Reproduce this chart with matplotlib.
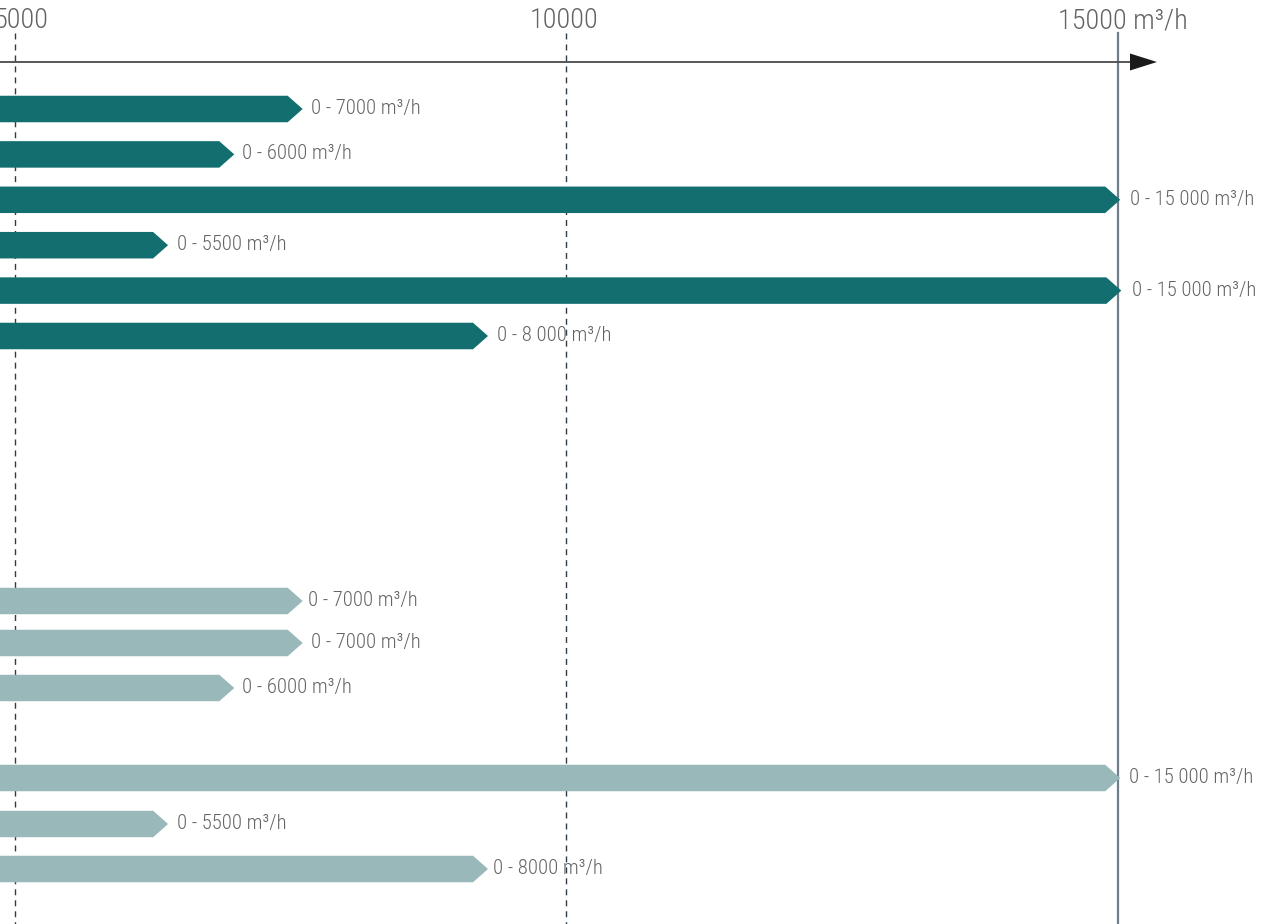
import matplotlib
matplotlib.use("Agg")
import matplotlib.pyplot as plt
from matplotlib.patches import Polygon
from matplotlib import font_manager as fm

# ---------------- data ----------------
top_labels = ["0 - 7000 m³/h", "0 - 6000 m³/h", "0 - 15 000 m³/h",
              "0 - 5500 m³/h", "0 - 15 000 m³/h", "0 - 8 000 m³/h"]
top_ends = [7610, 6990, 15020, 6390, 15030, 9290]

bottom_labels = ["0 - 7000 m³/h", "0 - 7000 m³/h", "0 - 6000 m³/h",
                 "0 - 15 000 m³/h", "0 - 5500 m³/h", "0 - 8000 m³/h"]
bottom_ends = [7610, 7610, 6990, 15020, 6390, 9290]

tick_values = [5000, 10000, 15000]
tick_labels = ["5000", "10000", "15000 m³/h"]

# ---------------- font choice ----------------
entries = fm.fontManager.ttflist
names = {e.name for e in entries}
font_kw = None
for cand in ["Liberation Sans Narrow", "Roboto Condensed", "Open Sans Condensed"]:
    if cand in names:
        font_kw = dict(family=[cand, "DejaVu Sans"])
        break
if font_kw is None:
    if any(e.name == "DejaVu Sans" and "condensed" in str(e.stretch) for e in entries):
        font_kw = dict(family=["DejaVu Sans"], stretch="condensed")
    elif "Roboto" in names:
        font_kw = dict(family=["Roboto", "DejaVu Sans"])
    else:
        font_kw = dict(family=["DejaVu Sans"])
fam0 = font_kw["family"][0]
if any(e.name == fam0 and e.weight in (300, "light") for e in entries):
    font_kw["weight"] = "light"

# ---------------- layout / style ----------------
W, H = 1262, 924
PX_PER_UNIT = 0.11033
X0_PX = 14.7  # pixel of 5000
xmin = 5000 - X0_PX / PX_PER_UNIT
xmax = xmin + W / PX_PER_UNIT

top_rows = [109 + 45.4 * i for i in range(6)]
bottom_rows = [601, 643, 688, 778, 824, 869]
top_gaps_px = [8, 8, 10, 9, 11, 9]
bottom_gaps_px = [5, 8, 8, 9, 9, 5]
tick_label_offsets_px = [6.5, -2, 4.5]

dark = "#126e6f"
light = "#98b8ba"
text_col = "#636363"

bar_h = 26.5
tip_px = 15

fig = plt.figure(figsize=(W / 100, H / 100), dpi=100)
ax = fig.add_axes([0, 0, 1, 1])
ax.set_xlim(xmin, xmax)
ax.set_ylim(H, 0)
ax.axis("off")
renderer = fig.canvas.get_renderer()


def fit_size(sample, target_px, base=15.0):
    t = fig.text(0, 0, sample, fontsize=base, **font_kw)
    w = t.get_window_extent(renderer).width
    t.remove()
    return base * target_px / w


label_fs = fit_size("0 - 7000 m³/h", 110)
tick_fs = fit_size("10000", 69)

tip = tip_px / PX_PER_UNIT


def draw_bar(y, end, color, label, gap_px):
    hh = bar_h / 2
    pts = [(0, y - hh), (end - tip, y - hh), (end, y), (end - tip, y + hh), (0, y + hh)]
    ax.add_patch(Polygon(pts, closed=True, facecolor=color, edgecolor="none", zorder=2))
    ax.text(end + gap_px / PX_PER_UNIT, y - 0.5, label, ha="left", va="center",
            fontsize=label_fs, color=text_col, zorder=3, **font_kw)


for y, e, l, g in zip(top_rows, top_ends, top_labels, top_gaps_px):
    draw_bar(y, e, dark, l, g)
for y, e, l, g in zip(bottom_rows, bottom_ends, bottom_labels, bottom_gaps_px):
    draw_bar(y, e, light, l, g)

# grid lines (behind bars)
line_top = 33
for v in tick_values[:-1]:
    ax.plot([v, v], [line_top, H], color="#2e3b48", lw=1.0,
            dashes=(4.3, 3.6), zorder=1)
ax.plot([tick_values[-1]] * 2, [line_top, H], color="#6f7e8b", lw=1.6, zorder=1)

# tick labels
for v, t, off in zip(tick_values, tick_labels, tick_label_offsets_px):
    ax.text(v + off / PX_PER_UNIT, 21, t, ha="center", va="center", fontsize=tick_fs,
            color=text_col, **font_kw)

# axis line with arrow
axis_y = 62
line_end = 5000 + (1132 - X0_PX) / PX_PER_UNIT
arrow_base = 5000 + (1130 - X0_PX) / PX_PER_UNIT
arrow_tip = 5000 + (1157 - X0_PX) / PX_PER_UNIT
ax.plot([xmin, line_end], [axis_y, axis_y], color="#4a4a4a", lw=1.3, zorder=5)
ax.add_patch(Polygon([(arrow_base, axis_y - 8.5), (arrow_tip, axis_y),
                      (arrow_base, axis_y + 8.5)], closed=True,
                     facecolor="#1a1a1a", edgecolor="none", zorder=6))

fig.savefig("out.png", dpi=100)
